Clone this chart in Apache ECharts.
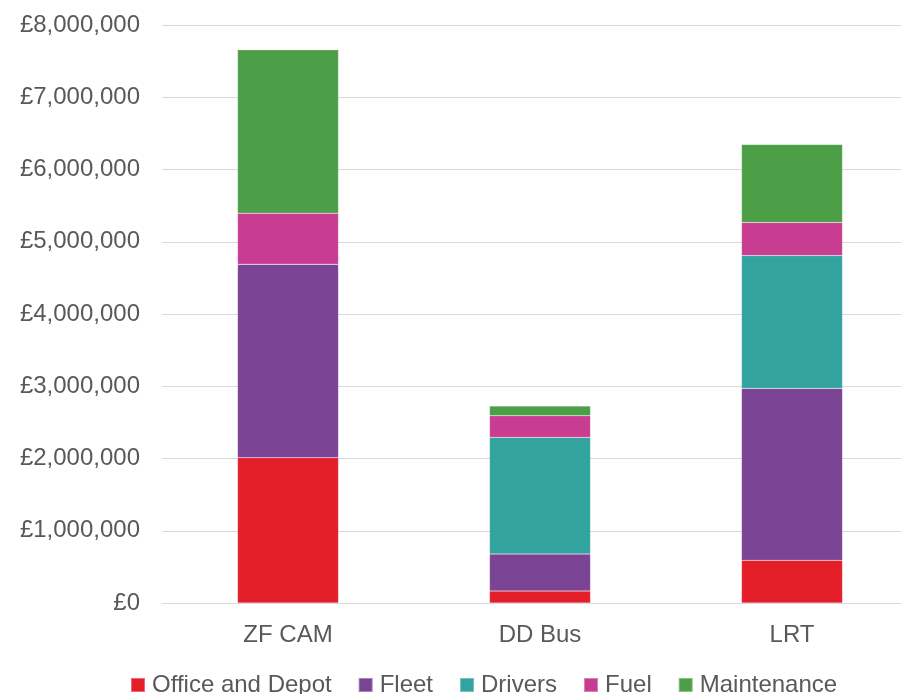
<!DOCTYPE html>
<html>
<head>
<meta charset="utf-8">
<script src="https://cdn.jsdelivr.net/npm/echarts@6/dist/echarts.min.js"></script>
<style>html,body{margin:0;padding:0;background:#fff;overflow:hidden;}#c{width:901px;height:694px;}</style>
</head>
<body>
<div id="c"></div>
<script>
const categories = ['ZF CAM', 'DD Bus', 'LRT'];
const officeAndDepot = [2010000, 165000, 590000];
const fleet = [2680000, 512000, 2380000];
const drivers = [0, 1615000, 1840000];
const fuel = [706000, 300000, 457000];
const maintenance = [2260000, 135000, 1080000];
const seriesNames = ['Office and Depot', 'Fleet', 'Drivers', 'Fuel', 'Maintenance'];
const seriesData = [officeAndDepot, fleet, drivers, fuel, maintenance];
const colors = ['#E41E28', '#7B4393', '#32A39F', '#C83C92', '#4C9F47'];

const chart = echarts.init(document.getElementById('c'));
const font = '"Liberation Sans", Arial, sans-serif';
chart.setOption({
  animation: false,
  color: colors,
  grid: { left: 162, width: 756, top: 25, height: 578, containLabel: false, outerBoundsMode: 'none' },
  legend: {
    data: seriesNames,
    top: 668,
    left: 125,
    itemWidth: 14,
    itemHeight: 14,
    itemGap: 26,
    icon: 'rect',
    textStyle: { fontFamily: font, fontSize: 24, color: '#595959', padding: [0, 0, 0, 2] }
  },
  xAxis: {
    type: 'category',
    data: categories,
    axisLine: { lineStyle: { color: '#d9d9d9', width: 1 } },
    axisTick: { show: false },
    axisLabel: { fontFamily: font, fontSize: 24, color: '#595959', margin: 20 }
  },
  yAxis: {
    type: 'value',
    min: 0,
    max: 8000000,
    interval: 1000000,
    axisLine: { show: false },
    axisTick: { show: false },
    splitLine: { lineStyle: { color: '#d9d9d9', width: 1 } },
    axisLabel: {
      fontFamily: font, fontSize: 24, color: '#595959', margin: 22,
      formatter: v => '£' + v.toLocaleString('en-GB')
    }
  },
  series: seriesData.map((d, i) => ({
    name: seriesNames[i],
    type: 'bar',
    stack: 'total',
    barWidth: 101,
    data: d,
    itemStyle: { borderColor: 'rgba(255,255,255,0.35)', borderWidth: 0.5 }
  }))
});
</script>
</body>
</html>
